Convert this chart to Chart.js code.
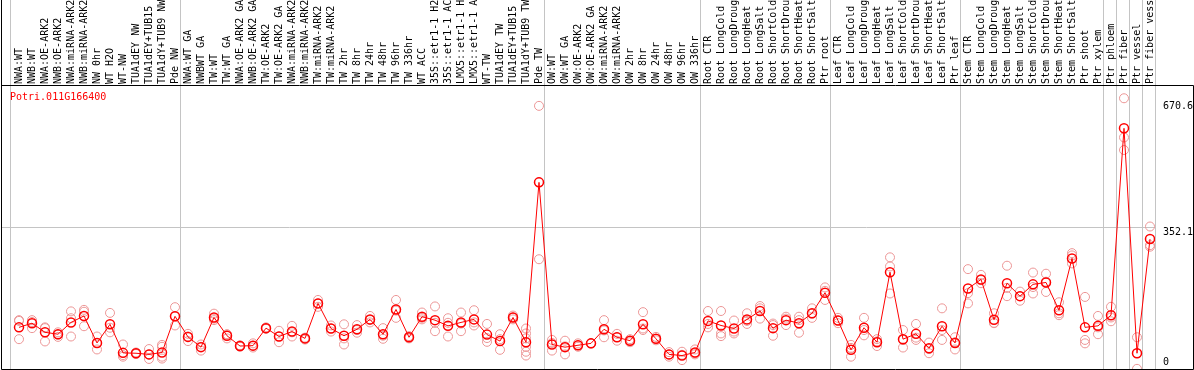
<!DOCTYPE html>
<html>
<head>
<meta charset="utf-8">
<script src="https://cdn.jsdelivr.net/npm/chart.js@4.4.0/dist/chart.umd.min.js"></script>
<style>
  html, body { margin: 0; padding: 0; background: #fff; }
  #wrap { width: 1194px; height: 370px; }
</style>
</head>
<body>
<div id="wrap"><canvas id="chart" width="1194" height="370"></canvas></div>
<script>
const geneId = "Potri.011G166400";

const samples = [
  "NWA:WT", "NWB:WT", "NWA:OE-ARK2", "NWB:OE-ARK2", "NWA:miRNA-ARK2", "NWB:miRNA-ARK2",
  "NW 0hr", "WT H2O", "WT-NW", "TUA1dEY NW", "TUA1dEY+TUB15", "TUA1dY+TUB9 NW", "Pde NW",
  "NWA:WT GA", "NWBWT GA", "TW:WT", "TW:WT GA", "NWA:OE-ARK2 GA", "NWB:OE-ARK2 GA",
  "TW:OE-ARK2", "TW:OE-ARK2 GA", "NWA:miRNA-ARK2", "NWB:miRNA-ARK2", "TW:miRNA-ARK2",
  "TW:miRNA-ARK2", "TW 2hr", "TW 8hr", "TW 24hr", "TW 48hr", "TW 96hr", "TW 336hr",
  "WT ACC", "35S::etr1-1 H2", "35S::etr1-1 AC", "LMX5::etr1-1 H", "LMX5::etr1-1 A",
  "WT-TW", "TUA1dEY TW", "TUA1dEY+TUB15", "TUA1dY+TUB9 TW", "Pde TW",
  "OW:WT", "OW:WT GA", "OW:OE-ARK2", "OW:OE-ARK2 GA", "OW:miRNA-ARK2", "OW:miRNA-ARK2",
  "OW 2hr", "OW 8hr", "OW 24hr", "OW 48hr", "OW 96hr", "OW 336hr",
  "Root CTR", "Root LongCold", "Root LongDroug", "Root LongHeat", "Root LongSalt",
  "Root ShortCold", "Root ShortDrou", "Root ShortHeat", "Root ShortSalt", "Ptr root",
  "Leaf CTR", "Leaf LongCold", "Leaf LongDroug", "Leaf LongHeat", "Leaf LongSalt",
  "Leaf ShortCold", "Leaf ShortDrou", "Leaf ShortHeat", "Leaf ShortSalt", "Ptr leaf",
  "Stem CTR", "Stem LongCold", "Stem LongDroug", "Stem LongHeat", "Stem LongSalt",
  "Stem ShortCold", "Stem ShortDrou", "Stem ShortHeat", "Stem ShortSalt",
  "Ptr shoot", "Ptr xylem", "Ptr phloem", "Ptr fiber", "Ptr vessel", "Ptr fiber vess"
];

const means = [
  91, 102, 78, 73, 104, 121, 50, 99, 24, 23, 20, 25, 120,
  66, 39, 117, 69, 42, 43, 89, 67, 80, 62, 154, 88, 69, 86, 112, 73, 138,
  65, 119, 110, 95, 104, 112, 72, 55, 117, 52, 472,
  46, 39, 44, 49, 86, 65, 56, 99, 61, 20, 17, 25,
  108, 96, 88, 112, 134, 89, 110, 102, 128, 182,
  109, 32, 90, 52, 236, 60, 74, 36, 94, 50,
  193, 217, 111, 207, 173, 204, 209, 136, 272,
  91, 95, 123, 614, 23, 323
];

const rep1 = [
  110, 110, 91, 78, 133, 137, 67, 129, 46, 25, 34, 45, 144,
  74, 46, 127, 73, 44, 49, 91, 82, 95, 64, 163, 96, 99, 97, 121, 89, 163,
  68, 130, 146, 115, 130, 136, 100, 73, 122, 88, 673,
  58, 56, 49, 49, 110, 74, 60, 131, 66, 26, 27, 33,
  134, 134, 109, 128, 147, 101, 119, 110, 141, 196,
  116, 45, 116, 60, 275, 84, 100, 51, 141, 65,
  244, 229, 128, 253, 185, 235, 232, 157, 286,
  171, 121, 145, 693, 65, 356
];

const rep2 = [
  60, 89, 54, 66, 67, 94, 33, 78, 14, 21, 8, 14, 96,
  55, 30, 110, 62, 40, 38, 87, 52, 67, 59, 145, 80, 46, 77, 104, 61, 116,
  62, 112, 81, 67, 81, 96, 53, 32, 112, 62, 270,
  30, 20, 40, 49, 65, 56, 52, 84, 57, 14, 5, 20,
  91, 68, 75, 100, 114, 69, 97, 77, 116, 163,
  102, 14, 70, 42, 251, 38, 58, 23, 58, 33,
  154, 207, 102, 173, 161, 180, 184, 123, 280,
  58, 73, 107, 590, -18, 307
];

const rep3 = [
  108, 105, 89, 72, 115, 132, 50, 90, 18, 23, 20, 40, 120,
  67, 40, 114, 72, 42, 43, 89, 67, 78, 62, 154, 88, 62, 84, 110, 69, 135,
  65, 116, 103, 103, 101, 104, 63, 60, 117, 17, 473,
  50, 41, 44, 49, 83, 65, 56, 88, 61, 20, 19, 23,
  100, 75, 80, 108, 141, 97, 114, 119, 127, 187,
  109, 37, 84, 54, 180, 58, 64, 34, 84, 52,
  181, 215, 103, 195, 173, 197, 211, 128, 259,
  49, 91, 117, 557, 23, 303
];

// samples with more than three replicates
const extraSample = [11, 39, 39, 39];
const extraValue = [9, 75, 40, 27];

const groupStarts = [0, 13, 41, 53, 63, 73, 84, 85, 86, 87, 88];
const yTicks = [0, 352.1, 670.6];

const gridGrey = "#c4c4c4";
const clear = "rgba(0,0,0,0)";
const monoFont = { family: "'DejaVu Sans Mono', monospace", size: 10 };

const xMin = -18 / 13;
const xMax = 1136 / 13;
const sep = groupStarts.map((s) => s - 8 / 13);

function toPoints(arr) {
  return arr.map((v, i) => ({ x: i, y: v }));
}

const extraPoints = extraSample.map((s, k) => ({ x: s, y: extraValue[k] }));

const repStyle = {
  showLine: false,
  pointRadius: 4.5,
  pointBorderWidth: 1,
  pointBorderColor: "rgb(236,150,150)",
  pointBackgroundColor: clear,
};

const framePlugin = {
  id: "frame",
  afterDraw(chart) {
    const { ctx, chartArea } = chart;
    const l = chartArea.left + 0.5;
    const r = chart.width - 0.5;
    const t = chartArea.top - 0.5;
    const b = chartArea.bottom + 0.5;
    ctx.save();
    ctx.strokeStyle = "#000";
    ctx.lineWidth = 1;
    ctx.beginPath();
    ctx.moveTo(l, 0);
    ctx.lineTo(l, b);
    ctx.lineTo(r, b);
    ctx.lineTo(r, t);
    ctx.lineTo(l, t);
    ctx.stroke();
    ctx.fillStyle = "#ff0000";
    ctx.font = "10px 'DejaVu Sans Mono', monospace";
    ctx.textBaseline = "middle";
    ctx.fillText(geneId, chartArea.left + 9, chartArea.top + 11);
    ctx.restore();
  },
};

new Chart(document.getElementById("chart").getContext("2d"), {
  type: "scatter",
  data: {
    datasets: [
      {
        label: "mean",
        data: toPoints(means),
        showLine: true,
        borderColor: "#ff0000",
        borderWidth: 1,
        tension: 0,
        pointRadius: 4.5,
        pointBorderWidth: 1.5,
        pointBorderColor: "#ff0000",
        pointBackgroundColor: clear,
      },
      { label: "rep1", data: toPoints(rep1), ...repStyle },
      { label: "rep2", data: toPoints(rep2), ...repStyle },
      { label: "rep3", data: toPoints(rep3), ...repStyle },
      { label: "extra", data: extraPoints, ...repStyle },
    ],
  },
  options: {
    responsive: false,
    animation: false,
    events: [],
    layout: { autoPadding: false, padding: { left: 1, right: 0, top: 0, bottom: 1 } },
    plugins: { legend: { display: false }, tooltip: { enabled: false } },
    scales: {
      x: {
        type: "linear",
        position: "top",
        min: xMin,
        max: xMax,
        afterBuildTicks(scale) {
          const vals = samples.map((s, i) => i).concat(sep);
          vals.sort((a, b) => a - b);
          scale.ticks = vals.map((v) => ({ value: v }));
        },
        afterFit(scale) {
          scale.height = 86;
          scale.paddingLeft = 0;
          scale.paddingRight = 0;
        },
        border: { display: false },
        grid: {
          tickLength: 86,
          color: (ctx) => (Number.isInteger(ctx.tick.value) ? clear : gridGrey),
        },
        ticks: {
          autoSkip: false,
          minRotation: 90,
          maxRotation: 90,
          padding: -84,
          labelOffset: 12,
          color: "#000",
          font: monoFont,
          callback: (v) => (Number.isInteger(v) ? samples[v] : ""),
        },
      },
      y: {
        type: "linear",
        position: "right",
        min: -18.39,
        max: 725.2,
        afterBuildTicks(scale) {
          scale.ticks = yTicks.map((v) => ({ value: v }));
        },
        afterFit(scale) {
          scale.width = 39;
          scale.paddingTop = 0;
          scale.paddingBottom = 0;
        },
        border: { display: false },
        grid: {
          drawTicks: false,
          color: (ctx) => (ctx.tick.value === 352.1 ? gridGrey : clear),
        },
        ticks: {
          padding: 8,
          color: "#000",
          font: { ...monoFont, lineHeight: 0.94 },
          // the middle label sits just under its grid line
          callback: (v) => (v === 352.1 ? ["", String(v)] : String(v)),
        },
      },
    },
  },
  plugins: [framePlugin],
});
</script>
</body>
</html>
